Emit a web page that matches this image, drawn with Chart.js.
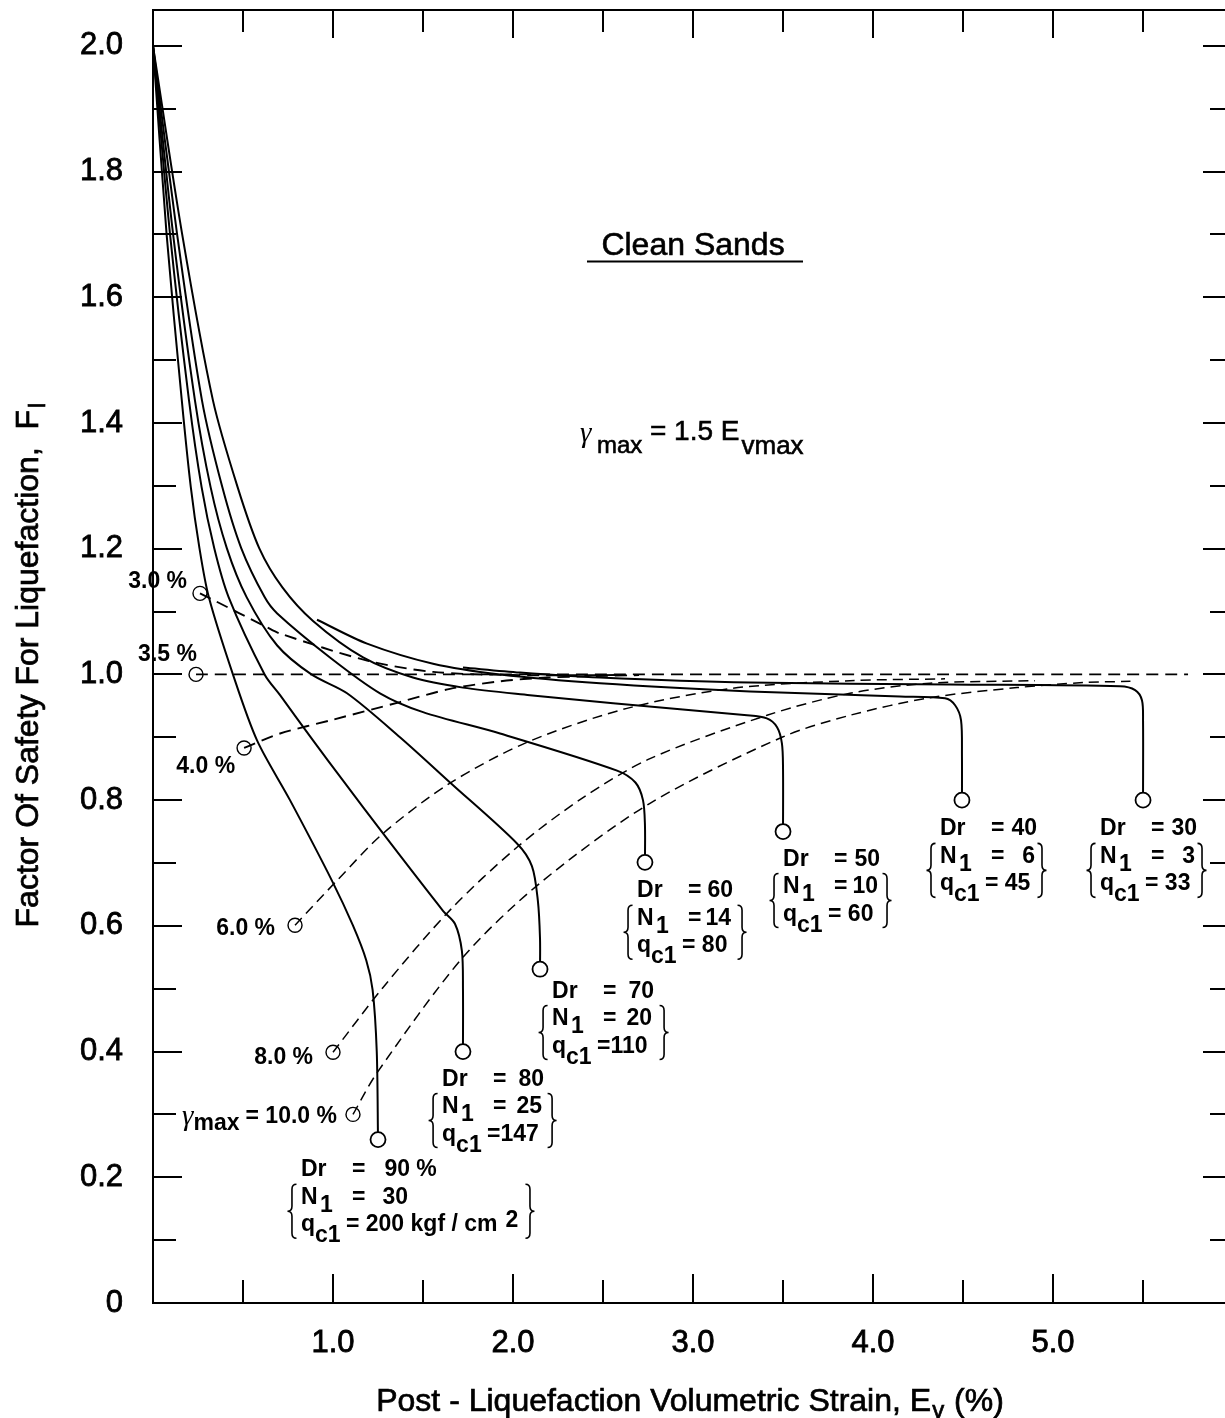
<!DOCTYPE html>
<html><head><meta charset="utf-8">
<script src="https://cdn.jsdelivr.net/npm/chart.js@4/dist/chart.umd.min.js"></script>
<style>
html,body{margin:0;padding:0;background:#fff;overflow:hidden;}
#wrap{width:1230px;height:1418px;position:relative;}
canvas{display:block;}
</style></head><body>
<div id="wrap"><canvas id="c" width="1230" height="1418"></canvas></div>
<script>
const FONT = "'Liberation Sans', Arial, Helvetica, sans-serif";

// ---- axes ----
const xRange = [0, 5.972];
const yRange = [0, 2.057];
const xTickValues = [1, 2, 3, 4, 5];
const xTickLabels = ['1.0', '2.0', '3.0', '4.0', '5.0'];
const yTickValues = [0, 0.2, 0.4, 0.6, 0.8, 1.0, 1.2, 1.4, 1.6, 1.8, 2.0];
const yTickLabels = ['0', '0.2', '0.4', '0.6', '0.8', '1.0', '1.2', '1.4', '1.6', '1.8', '2.0'];
const xMarkTicks = [0.5, 1, 1.5, 2, 2.5, 3, 3.5, 4, 4.5, 5, 5.5];
const yMarkTicks = [0.1, 0.2, 0.3, 0.4, 0.5, 0.6, 0.7, 0.8, 0.9, 1.0, 1.1, 1.2, 1.3, 1.4, 1.5, 1.6, 1.7, 1.8, 1.9, 2.0];

// ---- solid curves (Ev %, FL) ----
const curveDr90 = [[0,2.0],[0.075,1.702],[0.16,1.436],[0.21,1.298],[0.258,1.201],[0.31,1.123],[0.444,1.0],[0.578,0.895],[0.761,0.80],[0.994,0.672],[1.11,0.601],[1.185,0.545],[1.22,0.498],[1.243,0.40],[1.25,0.26]];
const curveDr80 = [[0,2.0],[0.094,1.702],[0.2,1.436],[0.27,1.298],[0.34,1.201],[0.42,1.123],[0.62,1.0],[0.706,0.967],[0.889,0.895],[1.056,0.831],[1.278,0.747],[1.611,0.624],[1.678,0.603],[1.716,0.56],[1.722,0.50],[1.722,0.40]];
const curveDr70 = [[0,2.0],[0.111,1.702],[0.233,1.436],[0.32,1.298],[0.41,1.201],[0.52,1.123],[0.69,1.046],[0.88,1.0],[1.078,0.97],[1.372,0.9],[1.65,0.828],[2.022,0.731],[2.105,0.695],[2.138,0.64],[2.15,0.58],[2.15,0.531]];
const curveDr60 = [[0,2.0],[0.133,1.702],[0.272,1.436],[0.385,1.298],[0.49,1.201],[0.62,1.123],[0.69,1.097],[0.983,1.027],[1.261,0.97],[1.5,0.94],[1.928,0.906],[2.578,0.847],[2.68,0.828],[2.722,0.80],[2.733,0.76],[2.733,0.701]];
const curveDr50 = [[0,2.0],[0.161,1.702],[0.333,1.436],[0.47,1.298],[0.59,1.201],[0.72,1.138],[0.889,1.085],[1.167,1.027],[1.444,0.995],[1.722,0.979],[2.094,0.967],[2.556,0.954],[3.3,0.935],[3.41,0.930],[3.467,0.916],[3.494,0.89],[3.5,0.85],[3.5,0.75]];
const curveDr40 = [[0.911,1.087],[1.189,1.049],[1.556,1.017],[1.928,1.0],[2.483,0.986],[3.317,0.973],[4.15,0.965],[4.4,0.962],[4.456,0.951],[4.489,0.927],[4.494,0.87],[4.494,0.80]];
const curveDr30 = [[1.722,1.011],[2.039,1.003],[2.483,0.995],[3.317,0.987],[4.428,0.984],[5.372,0.981],[5.456,0.975],[5.494,0.959],[5.5,0.927],[5.5,0.80]];

// ---- dashed gamma_max curves ----
const dashG30 = [[0.261,1.129],[0.317,1.121],[0.633,1.075],[0.706,1.065],[1.189,1.022],[1.556,1.004],[2.0,0.999],[2.6,0.999]];
const dashG35 = [[0.239,1.0],[5.75,1.0]];
const dashG40 = [[0.506,0.883],[0.706,0.906],[1.0,0.928],[1.372,0.956],[1.65,0.977],[1.928,0.989],[2.19,0.995],[2.7,0.999]];
const dashG60 = [[0.789,0.601],[1.022,0.672],[1.278,0.747],[1.65,0.827],[2.078,0.892],[2.633,0.946],[3.222,0.978],[3.872,0.99],[4.4,0.993]];
const dashG80 = [[1.0,0.399],[1.278,0.502],[1.65,0.625],[2.022,0.725],[2.389,0.804],[2.761,0.866],[3.411,0.935],[3.872,0.970],[4.317,0.986],[4.9,0.99]];
const dashG100 = [[1.111,0.3],[1.244,0.366],[1.722,0.55],[2.15,0.668],[2.761,0.795],[3.494,0.9],[3.872,0.935],[4.317,0.963],[4.8,0.979],[5.167,0.987],[5.43,0.989]];

// ---- markers ----
const drMarkerX = [1.25, 1.722, 2.15, 2.733, 3.5, 4.494, 5.5];
const drMarkerY = [0.26, 0.40, 0.531, 0.701, 0.75, 0.80, 0.80];
const gammaMarkerX = [0.261, 0.239, 0.506, 0.789, 1.0, 1.111];
const gammaMarkerY = [1.129, 1.0, 0.883, 0.601, 0.399, 0.30];

// ---- labels ----
const drValues = ['90', '80', '70', '60', '50', '40', '30'];
const n1Values = ['30', '25', '20', '14', '10', '6', '3'];
const qc1Values = ['= 200 kgf / cm', '=147', '=110', '= 80', '= 60', '= 45', '= 33'];
const blockAnchorX = [0.822, 1.606, 2.217, 2.689, 3.5, 4.372, 5.261];
const blockAnchorY = [0.2016, 0.346, 0.486, 0.6455, 0.696, 0.744, 0.744];
const blockValueRight = [109, 102, 102, 96, 97, 97, 97];
const blockBraceRight = [229, 110, 112, 105, 104, 102, 102];
const gammaLabelText = ['3.0 %', '3.5 %', '4.0 %', '6.0 %', '8.0 %', '= 10.0 %'];
const gammaLabelX = [0.189, 0.244, 0.456, 0.678, 0.889, 1.022];
const gammaLabelY = [1.137, 1.021, 0.843, 0.585, 0.381, 0.286];

const toPts = a => a.map(p => ({x: p[0], y: p[1]}));
const solid = (arr) => ({data: toPts(arr), showLine: true, borderColor: '#000', borderWidth: 2, pointRadius: 0, tension: 0.3, fill: false});
const dashed = (arr, w, d) => ({data: toPts(arr), showLine: true, borderColor: '#000', borderWidth: w, borderDash: d, pointRadius: 0, tension: 0.3, fill: false});

const datasets = [
  {data: drMarkerX.map((x, i) => ({x, y: drMarkerY[i]})), showLine: false, pointRadius: 7.5, pointBorderWidth: 1.8, pointBorderColor: '#000', pointBackgroundColor: '#fff'},
  {data: gammaMarkerX.map((x, i) => ({x, y: gammaMarkerY[i]})), showLine: false, pointRadius: 7, pointBorderWidth: 1.4, pointBorderColor: '#000', pointBackgroundColor: 'rgba(255,255,255,0)'},
  solid(curveDr90), solid(curveDr80), solid(curveDr70), solid(curveDr60), solid(curveDr50), solid(curveDr40), solid(curveDr30),
  dashed(dashG30, 1.9, [12, 7]), dashed(dashG35, 1.9, [12, 7]), dashed(dashG40, 1.9, [12, 7]),
  dashed(dashG60, 1.5, [10, 6]), dashed(dashG80, 1.5, [10, 6]), dashed(dashG100, 1.5, [10, 6])
];

function brace(ctx, x, yTop, yBot, dir) {
  const w = 4.5 * dir; const ym = (yTop + yBot) / 2;
  ctx.beginPath();
  ctx.moveTo(x - w, yTop);
  ctx.quadraticCurveTo(x, yTop, x, yTop + 5);
  ctx.lineTo(x, ym - 5);
  ctx.quadraticCurveTo(x, ym, x + w, ym);
  ctx.quadraticCurveTo(x, ym, x, ym + 5);
  ctx.lineTo(x, yBot - 5);
  ctx.quadraticCurveTo(x, yBot, x - w, yBot);
  ctx.stroke();
}

const framePlugin = {
  id: 'frame',
  afterDraw(chart) {
    const {ctx, chartArea: ca, scales: {x: xs, y: ys}} = chart;
    ctx.save();
    ctx.strokeStyle = '#000'; ctx.lineWidth = 2;
    ctx.strokeRect(ca.left, ca.top, ca.right - ca.left, ca.bottom - ca.top);
    ctx.beginPath();
    yMarkTicks.forEach(v => {
      const py = Math.round(ys.getPixelForValue(v));
      const major = Math.round(v * 10) % 2 === 0;
      ctx.moveTo(ca.left, py); ctx.lineTo(ca.left + (major ? 29 : 23), py);
      ctx.moveTo(ca.right, py); ctx.lineTo(ca.right - (major ? 25 : 18), py);
    });
    xMarkTicks.forEach(v => {
      const px = Math.round(xs.getPixelForValue(v));
      const major = Number.isInteger(v);
      ctx.moveTo(px, ca.bottom); ctx.lineTo(px, ca.bottom - (major ? 29 : 23));
      ctx.moveTo(px, ca.top); ctx.lineTo(px, ca.top + (major ? 28 : 22));
    });
    ctx.stroke();
    ctx.restore();
  }
};

const textPlugin = {
  id: 'texts',
  afterDraw(chart) {
    const {ctx, chartArea: ca, scales: {x: xs, y: ys}} = chart;
    const X = v => xs.getPixelForValue(v), Y = v => ys.getPixelForValue(v);
    const font = (s, b) => `${b ? 'bold ' : ''}${s}px ${FONT}`;
    const GFONT = "italic 29px 'Liberation Serif', 'DejaVu Serif', serif";
    const heavy = (t, x, y) => { ctx.fillText(t, x, y); ctx.strokeText(t, x, y); };
    ctx.save();
    ctx.fillStyle = '#000'; ctx.strokeStyle = '#000';
    ctx.textBaseline = 'alphabetic';

    // Clean Sands
    ctx.lineWidth = 0.6;
    ctx.font = font(32); ctx.textAlign = 'center';
    heavy('Clean Sands', X(3.0), Y(1.667));
    ctx.lineWidth = 2; ctx.beginPath();
    ctx.moveTo(X(2.411), Y(1.657)); ctx.lineTo(X(3.611), Y(1.657)); ctx.stroke();

    // gamma_max = 1.5 E_vmax
    ctx.lineWidth = 0.6;
    ctx.textAlign = 'left';
    let gx = X(2.372), gy = Y(1.373);
    ctx.font = GFONT; ctx.fillText('γ', gx, gy + 2);
    ctx.font = font(24); heavy('max', gx + 17, gy + 13);
    ctx.font = font(28); heavy('= 1.5 E', gx + 70, gy);
    let w = ctx.measureText('= 1.5 E').width;
    ctx.font = font(26); heavy('vmax', gx + 70 + w + 2, gy + 14);

    // gamma labels
    gammaLabelText.forEach((t, i) => {
      const rx = X(gammaLabelX[i]), by = Y(gammaLabelY[i]);
      ctx.font = font(23, true); ctx.textAlign = 'right';
      ctx.fillText(t, rx, by);
      if (i === gammaLabelText.length - 1) {
        const tw = ctx.measureText(t).width;
        ctx.fillText('max', rx - tw - 6, by + 7);
        const mw = ctx.measureText('max').width;
        ctx.font = GFONT;
        ctx.fillText('γ', rx - tw - 6 - mw, by + 2);
      }
    });

    // Dr blocks
    drValues.forEach((dv, i) => {
      const x0 = X(blockAnchorX[i]), b0 = Y(blockAnchorY[i]);
      const vr = x0 + blockValueRight[i];
      ctx.font = font(23, true);
      ctx.textAlign = 'left';
      ctx.fillText('Dr', x0, b0);
      ctx.fillText('=', x0 + 51, b0);
      ctx.textAlign = 'right'; ctx.fillText(dv, vr, b0);
      if (i === 0) { ctx.textAlign = 'left'; ctx.fillText(' %', vr, b0); }
      const b1 = b0 + 27.5;
      ctx.textAlign = 'left';
      ctx.fillText('N', x0, b1);
      ctx.fillText('1', x0 + 19, b1 + 8);
      ctx.fillText('=', x0 + 51, b1);
      ctx.textAlign = 'right'; ctx.fillText(n1Values[i], vr - 2, b1);
      const b2 = b0 + 55;
      ctx.textAlign = 'left';
      ctx.fillText('q', x0, b2);
      ctx.fillText('c1', x0 + 14, b2 + 11);
      ctx.fillText(qc1Values[i], x0 + 45, b2);
      if (i === 0) {
        const qw = ctx.measureText(qc1Values[i]).width;
        ctx.fillText('2', x0 + 45 + qw + 8, b2 - 4);
      }
      ctx.lineWidth = 1.6;
      brace(ctx, x0 - 9, b0 + 8, b0 + 62, -1);
      brace(ctx, x0 + blockBraceRight[i], b0 + 8, b0 + 62, 1);
    });

    // axis titles
    ctx.lineWidth = 0.7;
    ctx.font = font(32); ctx.textAlign = 'left';
    const t1 = 'Post - Liquefaction Volumetric Strain, E', t2 = ' (%)';
    const w1 = ctx.measureText(t1).width, w3 = ctx.measureText(t2).width;
    ctx.font = font(24); const w2 = ctx.measureText('v').width;
    let sx = 690 - (w1 + w2 + 2 + w3) / 2;
    const by = 1411;
    ctx.font = font(32); heavy(t1, sx, by);
    ctx.font = font(24); heavy('v', sx + w1 + 1, by + 7);
    ctx.font = font(32); heavy(t2, sx + w1 + w2 + 2, by);

    ctx.save();
    ctx.translate(38, 665); ctx.rotate(-Math.PI / 2);
    ctx.font = font(32);
    const yt = 'Factor Of Safety For Liquefaction,  F';
    const yw = ctx.measureText(yt).width;
    ctx.font = font(24); const lw = ctx.measureText('l').width;
    const ys0 = -(yw + lw + 2) / 2;
    ctx.font = font(32); heavy(yt, ys0, 0);
    ctx.font = font(24); heavy('l', ys0 + yw + 2, 7);
    ctx.restore();

    ctx.restore();
  }
};

const zeroPad = s => { s.paddingTop = 0; s.paddingBottom = 0; s.paddingLeft = 0; s.paddingRight = 0; };

new Chart(document.getElementById('c').getContext('2d'), {
  type: 'scatter',
  data: {datasets},
  options: {
    responsive: false, animation: false,
    layout: {autoPadding: false, padding: {top: 10, right: 2, left: 0, bottom: 0}},
    plugins: {legend: {display: false}, tooltip: {enabled: false}, title: {display: false}},
    scales: {
      x: {
        type: 'linear', position: 'bottom', min: xRange[0], max: xRange[1],
        grid: {display: false, drawTicks: false}, border: {display: false},
        afterBuildTicks: s => { s.ticks = xTickValues.map(v => ({value: v})); },
        ticks: {autoSkip: false, maxRotation: 0, padding: 22, color: '#000', font: {family: FONT, size: 31},
          textStrokeColor: '#000', textStrokeWidth: 0.8,
          callback: v => { const k = xTickValues.indexOf(v); return k >= 0 ? xTickLabels[k] : ''; }},
        afterFit: s => { s.height = 115; zeroPad(s); }
      },
      y: {
        type: 'linear', position: 'left', min: yRange[0], max: yRange[1],
        grid: {display: false, drawTicks: false}, border: {display: false},
        afterBuildTicks: s => { s.ticks = yTickValues.map(v => ({value: v})); },
        ticks: {autoSkip: false, padding: 30, color: '#000', font: {family: FONT, size: 31},
          textStrokeColor: '#000', textStrokeWidth: 0.8,
          callback: v => { const k = yTickValues.findIndex(t => Math.abs(t - v) < 1e-9); return k >= 0 ? yTickLabels[k] : ''; }},
        afterFit: s => { s.width = 153; zeroPad(s); }
      }
    }
  },
  plugins: [framePlugin, textPlugin]
});
</script></body></html>
